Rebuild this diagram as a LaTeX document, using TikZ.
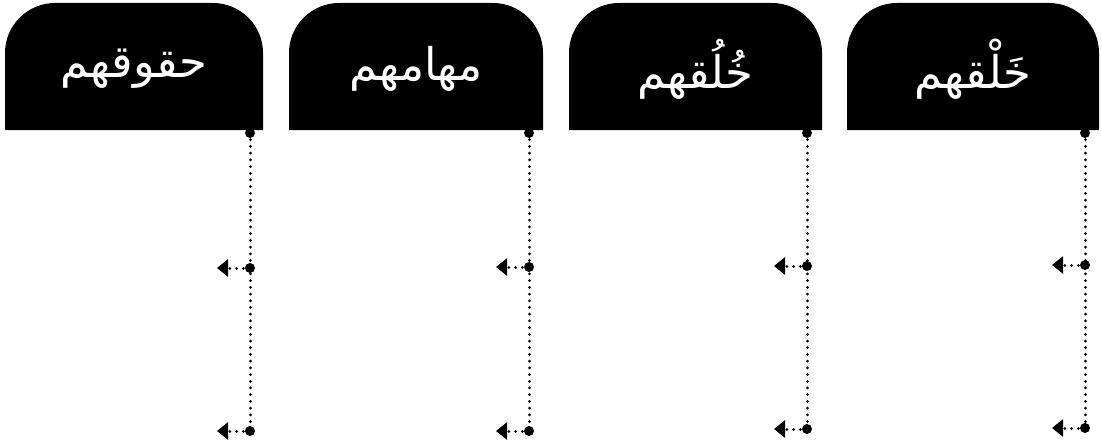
\documentclass[tikz,border=0pt]{standalone}
\usepackage{fontspec}
\newfontfamily\arabicfont[Script=Arabic]{DejaVu Sans}
\TeXXeTstate=1
\usetikzlibrary{arrows.meta}
\tikzset{
  tab/.style={fill=black},
  label/.style={text=white, font=\arabicfont\fontsize{45}{50}\selectfont, inner sep=0pt},
  dotline/.style={line width=3pt, line cap=round, dash pattern=on 0.01pt off 6.7pt},
  knob/.style={fill=black},
  tip/.style={-{Triangle[width=17pt,length=11pt]}}
}
\begin{document}
\begin{tikzpicture}[x=1pt,y=-1pt]
\useasboundingbox[fill=white] (0,0) rectangle (1102,441);
\foreach \i/\xa/\xb/\xd/\ym/\yb/\txt in {
  1/5/263/250/268/431/{حقوقهم},
  2/289/543/529/267/431/{مهامهم},
  3/569/822/807/266/429/{خُلُقهم},
  4/847/1099/1085/265/428/{خَلْقهم}}{
  \fill[tab] (\xa,130) [rounded corners=50pt] -- (\xa,3) -- (\xb,3) [sharp corners] -- (\xb,130) -- cycle;
  \node[label] (t\i) at ({(\xa+\xb)/2},69) {\beginR\txt\endR};
  \coordinate (s\i) at (\xd,133);
  \coordinate (m\i) at (\xd,\ym);
  \coordinate (b\i) at (\xd,\yb);
  \coordinate (am\i) at (\xd-33,\ym);
  \coordinate (ab\i) at (\xd-33,\yb);
  \draw[dotline] (s\i) -- (b\i);
  \draw[dotline, tip] (m\i) -- (am\i);
  \draw[dotline, tip] (b\i) -- (ab\i);
  \fill[knob] (s\i) circle (5pt);
  \fill[knob] (m\i) circle (5pt);
  \fill[knob] (b\i) circle (5pt);
}
\end{tikzpicture}
\end{document}
